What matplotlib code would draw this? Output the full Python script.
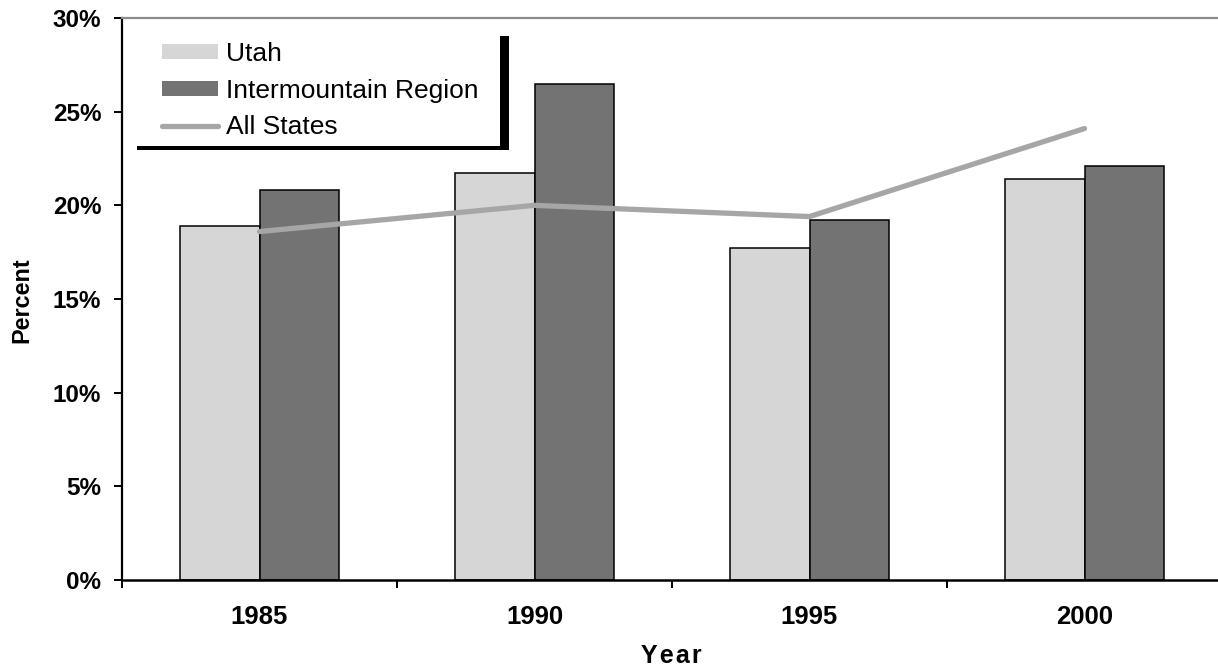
#!/usr/bin/env python3

import numpy as np
import matplotlib
matplotlib.use('Agg')
import matplotlib.pyplot as plt
from matplotlib.patches import Rectangle
from matplotlib.ticker import FuncFormatter

plt.rcParams['font.family'] = ['Liberation Sans', 'DejaVu Sans']

### Data
years = ['1985', '1990', '1995', '2000']
utah = [18.9, 21.7, 17.7, 21.4]
intermountain = [20.8, 26.5, 19.2, 22.1]
all_states = [18.6, 20.0, 19.4, 24.1]

fig = plt.figure(figsize=(12.18, 6.69), dpi=100)
ax = fig.add_axes([122 / 1218, 89 / 669, 1100 / 1218, 562 / 669])

x = np.arange(len(years))
w = 0.288

b1 = ax.bar(x - w / 2, utah, w, color='#d6d6d6', edgecolor='black', linewidth=1.1,
            label='Utah', zorder=2)
b2 = ax.bar(x + w / 2, intermountain, w, color='#737373', edgecolor='black', linewidth=1.1,
            label='Intermountain Region', zorder=2)
l1, = ax.plot(x, all_states, color='#a6a6a6', linewidth=3.8, solid_capstyle='round',
              label='All States', zorder=3)

ax.set_xlim(-0.5, 3.5)
ax.set_ylim(0, 30)

### Y axis
ax.set_yticks(np.arange(0, 31, 5))
ax.yaxis.set_major_formatter(FuncFormatter(lambda v, p: '%d%%' % v))
ax.tick_params(axis='y', direction='out', length=6, width=1.4, pad=9,
               labelsize=17.5)
for t in ax.get_yticklabels():
    t.set_fontweight('bold')

### X axis: ticks on group boundaries, labels at group centres
ax.set_xticks(np.arange(-0.5, 3.5, 1.0))
ax.set_xticklabels([])
ax.set_xticks(x, minor=True)
ax.set_xticklabels(years, minor=True, fontsize=18.5, fontweight='bold')
ax.tick_params(axis='x', which='major', direction='out', length=6, width=1.4)
ax.tick_params(axis='x', which='minor', length=0, pad=18)

ax.spines['right'].set_visible(False)
ax.spines['top'].set_color('#8c8c8c')
ax.spines['top'].set_linewidth(1.6)
ax.spines['left'].set_linewidth(1.6)
ax.spines['bottom'].set_linewidth(1.8)

fig.text(22 / 1218, 1 - 300 / 669, 'Percent', rotation=90, ha='center', va='center',
         fontsize=16.8, fontweight='bold')
fig.text(671 / 1218, 1 - 656 / 669, 'Y e a r'.replace(' ', '\u200a'), ha='center',
         va='center', fontsize=18, fontweight='bold')

### Legend box with black drop shadow
ax.add_patch(Rectangle((0.0136, 0.765), 0.3382, 0.203, transform=ax.transAxes,
                       facecolor='black', edgecolor='none', zorder=4, clip_on=False))
ax.add_patch(Rectangle((0.0055, 0.772), 0.3382, 0.203, transform=ax.transAxes,
                       facecolor='white', edgecolor='none', zorder=5, clip_on=False))
leg = ax.legend([b1, b2, l1], ['Utah', 'Intermountain Region', 'All States'],
                loc='upper left', bbox_to_anchor=(0.036, 0.957), frameon=False,
                fontsize=19, handlelength=2.15, handleheight=0.5, handletextpad=0.3,
                labelspacing=0.47, borderpad=0, borderaxespad=0)
for h in leg.legend_handles[:2]:
    h.set_edgecolor('none')
leg.set_zorder(6)

fig.savefig('out.png', dpi=100)
